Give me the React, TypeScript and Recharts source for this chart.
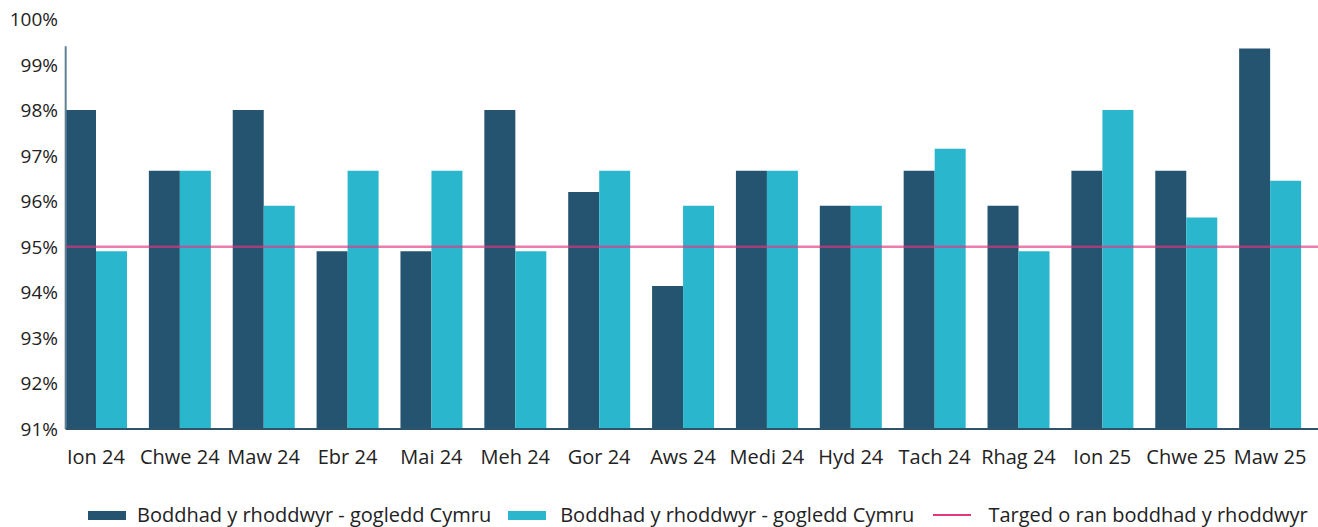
import React from 'react';
import { BarChart, Bar, XAxis, YAxis, ReferenceLine, Legend } from 'recharts';

const months = [
  'Ion 24', 'Chwe 24', 'Maw 24', 'Ebr 24', 'Mai 24', 'Meh 24', 'Gor 24', 'Aws 24',
  'Medi 24', 'Hyd 24', 'Tach 24', 'Rhag 24', 'Ion 25', 'Chwe 25', 'Maw 25',
];
const seriesA = [98, 96.67, 98, 94.9, 94.9, 98, 96.2, 94.14, 96.67, 95.9, 96.67, 95.9, 96.67, 96.67, 99.35];
const seriesB = [94.9, 96.67, 95.9, 96.67, 96.67, 94.9, 96.67, 95.9, 96.67, 95.9, 97.15, 94.9, 98, 95.64, 96.45];
const target = 95;
const yTicks = [91, 92, 93, 94, 95, 96, 97, 98, 99, 100];

const seriesName = 'Boddhad y rhoddwyr - gogledd Cymru';
const targetName = 'Targed o ran boddhad y rhoddwyr';

const DARK = '#245470';
const LIGHT = '#2ab7ce';
const PINK = '#e2367f';
const FONT = '"Open Sans", sans-serif';

const chartData = months.map((m, i) => ({ name: m, a: seriesA[i], b: seriesB[i] }));

// first bar starts ~13% into its band, that's where the axis lines begin
const axisStart = 0.13;

const YTick = (props: any) => {
  const { x, y, payload } = props;
  return (
    <text x={x + 4} y={y} textAnchor="end" dominantBaseline="central" fill="#222" fontSize={19} fontFamily={FONT}>
      {payload.value}%
    </text>
  );
};

const LegendBox = () => (
  <div
    style={{
      display: 'flex',
      alignItems: 'center',
      fontFamily: FONT,
      fontSize: 20,
      lineHeight: '22px',
      color: '#222',
      paddingLeft: 88,
      whiteSpace: 'nowrap',
    }}
  >
    <span style={{ width: 38, height: 9, background: DARK, display: 'inline-block', marginRight: 11 }} />
    <span style={{ marginRight: 17 }}>{seriesName}</span>
    <span style={{ width: 38, height: 9, background: LIGHT, display: 'inline-block', marginRight: 14 }} />
    <span style={{ marginRight: 19 }}>{seriesName}</span>
    <span style={{ width: 38, height: 1.5, background: PINK, display: 'inline-block', marginRight: 17 }} />
    <span>{targetName}</span>
  </div>
);

export default function App() {
  return (
    <div style={{ position: 'absolute', left: 0, top: 0, background: '#fff' }}>
      <BarChart
        width={1318}
        height={527}
        data={chartData}
        margin={{ top: 19, right: 6, left: 0, bottom: 0 }}
        barGap={0}
        barSize={31}
      >
        <XAxis
          dataKey="name"
          axisLine={false}
          tickLine={false}
          tickSize={0}
          tickMargin={21}
          height={68}
          interval={0}
          tick={{ fill: '#222', fontSize: 20, fontFamily: FONT }}
        />
        <XAxis xAxisId="frac" type="number" domain={[0, 15]} allowDataOverflow hide />
        <YAxis
          domain={[91, 100]}
          ticks={yTicks}
          axisLine={false}
          tickLine={false}
          tickSize={0}
          tickMargin={0}
          width={54}
          interval={0}
          tick={<YTick />}
        />
        <Bar dataKey="a" name={seriesName} fill={DARK} isAnimationActive={false} />
        <Bar dataKey="b" name={seriesName} fill={LIGHT} isAnimationActive={false} />
        <ReferenceLine
          xAxisId="frac"
          ifOverflow="visible"
          segment={[{ x: axisStart, y: 91 }, { x: axisStart, y: 99.4 }]}
          stroke="#5e8096"
          strokeWidth={2}
        />
        <ReferenceLine
          xAxisId="frac"
          ifOverflow="visible"
          segment={[{ x: axisStart, y: 91 }, { x: 15, y: 91 }]}
          stroke="#2f536b"
          strokeWidth={2}
        />
        <ReferenceLine
          xAxisId="frac"
          ifOverflow="visible"
          segment={[{ x: axisStart, y: target }, { x: 15, y: target }]}
          stroke={PINK}
          strokeOpacity={0.65}
          strokeWidth={2.5}
        />
        <Legend verticalAlign="bottom" height={30} content={<LegendBox />} wrapperStyle={{ top: 504, left: 0, bottom: 'auto' }} />
      </BarChart>
    </div>
  );
}
